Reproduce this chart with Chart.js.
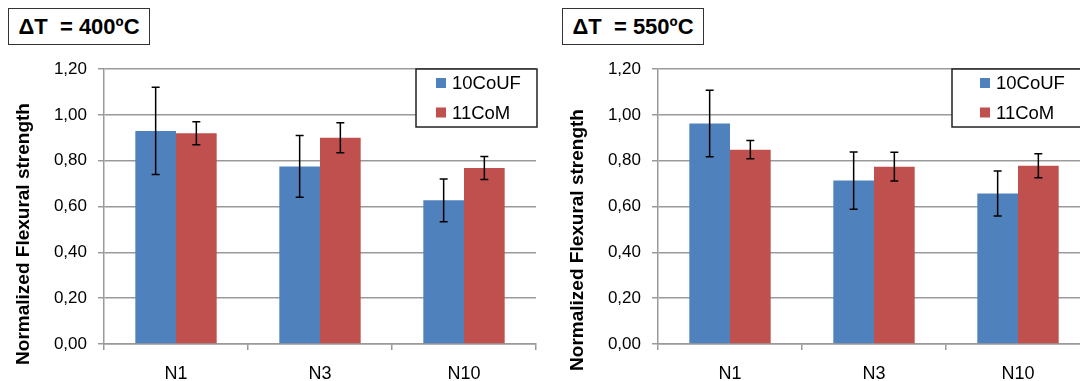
<!DOCTYPE html>
<html>
<head>
<meta charset="utf-8">
<script src="https://cdn.jsdelivr.net/npm/chart.js@4"></script>
<style>
  body { margin: 0; width: 1080px; height: 381px; overflow: hidden; background: #fff; position: relative; }
  .panel { position: absolute; top: 0; width: 540px; height: 381px; }
  .tbox { position: absolute; left: 8px; top: 8px; width: 140px; height: 35px; border: 1.5px solid #333;
          font: bold 22px "Liberation Sans", Arial, sans-serif; line-height: 36px; text-align: center;
          white-space: pre; color: #000; background: #fff; z-index: 2; }
</style>
</head>
<body>
<div class="panel" style="left:0"><canvas id="c400" width="540" height="381"></canvas><div class="tbox">ΔT  = 400ºC</div></div>
<div class="panel" style="left:554px"><canvas id="c550" width="540" height="381"></canvas><div class="tbox">ΔT  = 550ºC</div></div>
<script>
// data
var categories = ["N1", "N3", "N10"];
var seriesNames = ["10CoUF", "11CoM"];
var yTickLabels = ["0,00", "0,20", "0,40", "0,60", "0,80", "1,00", "1,20"];

var couf400 = [0.93, 0.775, 0.627];
var com400 = [0.92, 0.90, 0.768];
var coufErr400 = [0.19, 0.135, 0.093];
var comErr400 = [0.05, 0.065, 0.05];

var couf550 = [0.962, 0.713, 0.657];
var com550 = [0.848, 0.774, 0.778];
var coufErr550 = [0.145, 0.125, 0.098];
var comErr550 = [0.04, 0.063, 0.052];

var colors = ["#4F81BD", "#C0504D"];
var gridGray = "#9a9a9a";
var fontFam = "'Liberation Sans', Arial, sans-serif";

// error bars drawn on top of the bars
var errorBars = {
  id: 'errorBars',
  afterDatasetsDraw: function(chart) {
    var ctx = chart.ctx, y = chart.scales.y;
    chart.data.datasets.forEach(function(ds, i) {
      chart.getDatasetMeta(i).data.forEach(function(bar, j) {
        var v = ds.data[j], e = ds.errors[j];
        var top = y.getPixelForValue(v + e), bot = y.getPixelForValue(v - e);
        ctx.save();
        ctx.strokeStyle = "#000";
        ctx.lineWidth = 1.5;
        ctx.beginPath();
        ctx.moveTo(bar.x, top); ctx.lineTo(bar.x, bot);
        ctx.moveTo(bar.x - 4, top); ctx.lineTo(bar.x + 4, top);
        ctx.moveTo(bar.x - 4, bot); ctx.lineTo(bar.x + 4, bot);
        ctx.stroke();
        ctx.restore();
      });
    });
  }
};

// boxed legend inside the plot + y axis title
var boxLegend = {
  id: 'boxLegend',
  afterDraw: function(chart, args, o) {
    var ctx = chart.ctx;
    ctx.save();
    ctx.fillStyle = "#fff";
    ctx.fillRect(o.x, o.y, o.w, o.h);
    ctx.strokeStyle = "#222";
    ctx.lineWidth = 1.5;
    ctx.strokeRect(o.x, o.y, o.w, o.h);
    ctx.font = "18.5px " + fontFam;
    ctx.textBaseline = "middle";
    chart.data.datasets.forEach(function(ds, i) {
      var cy = o.y + 14 + i * 29.5;
      ctx.fillStyle = ds.backgroundColor;
      ctx.fillRect(o.mx, cy - 5, 10, 10);
      ctx.fillStyle = "#000";
      ctx.fillText(ds.label, o.mx + 16, cy + 1);
    });
    // axis title
    ctx.translate(24, o.ty);
    ctx.rotate(-Math.PI / 2);
    ctx.font = "bold 19px " + fontFam;
    ctx.textAlign = "center";
    ctx.fillText("Normalized Flexural strength", 0, 0);
    ctx.restore();
  }
};

function makeChart(id, blue, red, blueErr, redErr, leg) {
  return new Chart(document.getElementById(id), {
    type: 'bar',
    data: {
      labels: categories,
      datasets: [
        { label: seriesNames[0], backgroundColor: colors[0], data: blue, errors: blueErr },
        { label: seriesNames[1], backgroundColor: colors[1], data: red, errors: redErr }
      ]
    },
    options: {
      responsive: false, animation: false,
      categoryPercentage: 0.565, barPercentage: 1.0,
      layout: { padding: { top: 69, right: 4, left: 0, bottom: 0 } },
      plugins: { legend: { display: false }, title: { display: false }, tooltip: { enabled: false }, boxLegend: leg },
      scales: {
        x: {
          grid: { drawOnChartArea: false, color: gridGray, lineWidth: 1.5, tickLength: 6 },
          border: { color: gridGray, width: 1.5 },
          ticks: { color: "#000", font: { size: 18, family: fontFam }, padding: 13 },
          afterFit: function(s) { s.height = 37; }
        },
        y: {
          min: 0, max: 1.2,
          grid: { color: gridGray, lineWidth: 1.5, tickLength: 6 },
          border: { color: gridGray, width: 1.5 },
          ticks: { stepSize: 0.2, color: "#000", font: { size: 17, family: fontFam }, padding: 11,
                   callback: function(v, i) { return yTickLabels[i]; } },
          afterFit: function(s) { s.width = 104; }
        }
      }
    },
    plugins: [errorBars, boxLegend]
  });
}

makeChart('c400', couf400, com400, coufErr400, comErr400, { x: 416, y: 69, w: 121, h: 58, mx: 436, ty: 234 });
makeChart('c550', couf550, com550, coufErr550, comErr550, { x: 398, y: 69, w: 140, h: 58, mx: 426, ty: 240 });
</script>
</body>
</html>
